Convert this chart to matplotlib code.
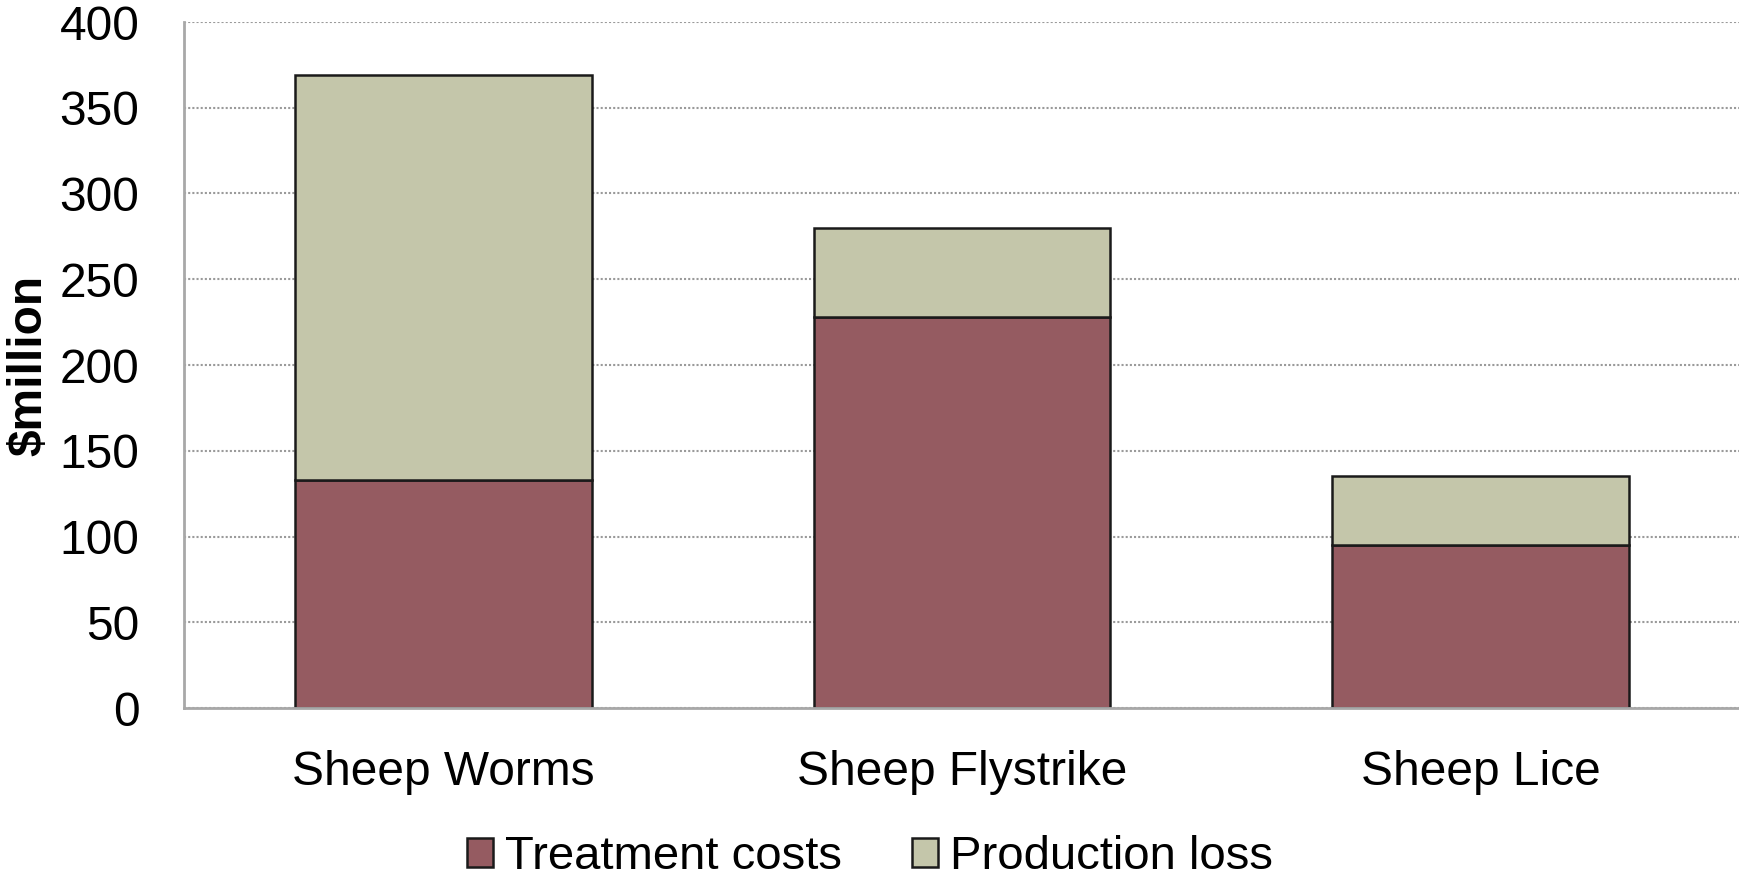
import matplotlib
matplotlib.use("Agg")
import matplotlib.pyplot as plt
import numpy as np

categories = ["Sheep Worms", "Sheep Flystrike", "Sheep Lice"]
treatment_costs = [133, 228, 95]
production_loss = [236, 52, 40]
series_names = ["Treatment costs", "Production loss"]
yticks = [0, 50, 100, 150, 200, 250, 300, 350, 400]

plt.rcParams['font.family'] = ['Liberation Sans', 'DejaVu Sans']

fig = plt.figure(figsize=(17.4, 8.8), dpi=100)
ax = fig.add_axes([184/1740, 1-708/880, 1-184/1740, (708-22)/880])

x = np.arange(len(categories))
w = 0.572
b1 = ax.bar(x, treatment_costs, width=w, color="#955B61", edgecolor="#1a1a1a", linewidth=1.8, label=series_names[0], zorder=3)
b2 = ax.bar(x, production_loss, width=w, bottom=treatment_costs, color="#C4C6AA", edgecolor="#1a1a1a", linewidth=1.8, label=series_names[1], zorder=3)

ax.set_xlim(-0.5, 2.5)
ax.set_ylim(0, 400)
ax.set_yticks(yticks)
ax.set_xticks(x)
ax.set_xticklabels(categories)
ax.tick_params(axis='both', length=0, labelsize=34.5)
ax.tick_params(axis='y', pad=32)
ax.tick_params(axis='x', pad=30)
ax.yaxis.grid(True, linestyle=(0, (1, 1)), color="#9a9a9a", linewidth=1.5, zorder=0)
ax.set_axisbelow(True)
for s in ["top", "right"]:
    ax.spines[s].set_visible(False)
for s in ["left", "bottom"]:
    ax.spines[s].set_color("#a8a8a8")
    ax.spines[s].set_linewidth(2)
    ax.spines[s].set_zorder(4)

ax.set_ylabel("$million", fontsize=34.5, fontweight="bold")
ax.yaxis.set_label_coords(-0.085, 0.5)

fig.legend(handles=[b1, b2], labels=series_names, loc="center", bbox_to_anchor=(0.5, 1-857/880),
           ncol=2, frameon=False, fontsize=34, handlelength=0.55, handleheight=0.55,
           handletextpad=0.25, columnspacing=1.5)

fig.savefig("out.png", dpi=100)
